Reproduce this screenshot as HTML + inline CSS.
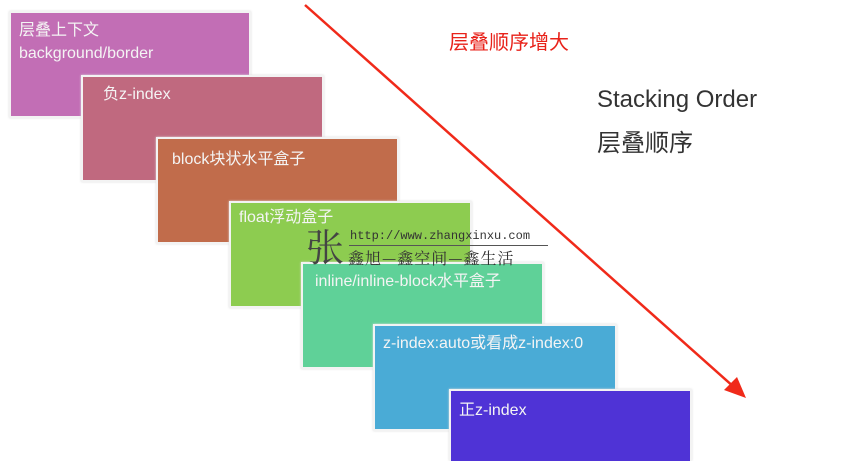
<!DOCTYPE html>
<html><head><meta charset="utf-8"><style>
html,body{margin:0;width:853px;height:461px;overflow:hidden}
body{background:#fff;position:relative;font-family:"Liberation Sans","Noto Sans CJK SC",sans-serif}
.b{position:absolute;width:238px;height:103px;border:2px solid #f3f3f3;box-shadow:0 0 2px #ddd;color:#f4f4f4;font-size:16px;line-height:23px;padding:0;box-sizing:border-box}
.b span{position:absolute;left:8px;top:6px;white-space:nowrap}
</style></head><body>
<div class="b" style="left:9px;top:11px;width:242px;height:107px;background:#c26eb5"><span>层叠上下文<br>background/border</span></div>
<div class="b" style="left:81px;top:75px;width:243px;height:107px;background:#c0697f"><span style="left:20px">负z-index</span></div>
<div class="b" style="left:156px;top:137px;width:243px;height:107px;background:#c16c4b"><span style="left:14px;top:9px">block块状水平盒子</span></div>
<div class="b" style="left:229px;top:201px;width:243px;height:107px;background:#8dcc50"><span style="top:3px">float浮动盒子</span></div>
<div class="b" style="left:301px;top:262px;width:243px;height:107px;background:#5fd198"><span style="left:12px;top:6px">inline/inline-block水平盒子</span></div>
<div class="b" style="left:373px;top:324px;width:244px;height:107px;background:#4aabd6"><span style="top:6px">z-index:auto或看成z-index:0</span></div>
<div class="b" style="left:449px;top:389px;width:243px;height:72px;border-bottom:none;background:#4f33d6"><span style="top:8px">正z-index</span></div>
<div style="position:absolute;left:350px;top:229px;font-family:'Liberation Mono',monospace;font-size:12px;color:#333">http://www.zhangxinxu.com</div>
<div style="position:absolute;left:349px;top:245px;width:199px;border-top:1px solid #555"></div>
<div style="position:absolute;left:348px;top:248px;font-family:'Noto Serif CJK SC',serif;font-size:16px;line-height:20px;color:#333;letter-spacing:1px;white-space:nowrap">鑫旭—鑫空间—鑫生活</div>
<div style="position:absolute;left:306px;top:222px;font-family:'Noto Serif CJK SC',serif;font-size:38px;line-height:46px;color:#444">张</div>
<svg style="position:absolute;left:0;top:0" width="853" height="461">
<line x1="305" y1="5" x2="735" y2="388" stroke="#f02a1a" stroke-width="2.5"/>
<polygon points="746,398 724,390 737,377" fill="#f02a1a"/>
</svg>
<div style="position:absolute;left:449px;top:26px;font-size:20px;color:#e8221a">层叠顺序增大</div>
<div style="position:absolute;left:597px;top:86px;font-size:24px;color:#333">Stacking Order</div>
<div style="position:absolute;left:597px;top:123px;font-size:24px;color:#333">层叠顺序</div>
</body></html>
